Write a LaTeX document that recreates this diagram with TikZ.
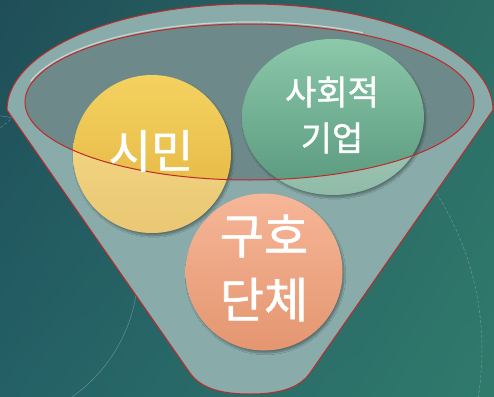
\documentclass[tikz,border=0pt]{standalone}
\usepackage{fontspec}
\newfontfamily\kr[FakeBold=1.2]{Noto Sans CJK KR}
\usetikzlibrary{shadings,shadows.blur}
\definecolor{bgUL}{RGB}{31,78,88}
\definecolor{bgUR}{RGB}{44,110,102}
\definecolor{bgLL}{RGB}{36,96,102}
\definecolor{bgLR}{RGB}{48,122,108}
\definecolor{funnelrim}{RGB}{137,171,170}
\definecolor{funnelin}{RGB}{110,137,137}
\definecolor{funnelred}{RGB}{192,40,42}
\definecolor{yelT}{RGB}{244,210,96}
\definecolor{yelB}{RGB}{226,178,62}
\definecolor{grnT}{RGB}{140,200,170}
\definecolor{grnB}{RGB}{88,152,124}
\definecolor{salT}{RGB}{246,182,152}
\definecolor{salB}{RGB}{228,150,112}
\tikzset{
  ball/.style={blur shadow={shadow xshift=1.5pt,shadow yshift=-2.5pt,shadow blur steps=8,shadow opacity=35}},
  lbl/.style={text=white,align=center,inner sep=0pt},
  redline/.style={draw=funnelred,line width=1pt},
  faint/.style={draw=white,opacity=0.28,line width=0.5pt},
  fA/.style={font=\kr\fontsize{46}{50}\selectfont},
  fB/.style={font=\kr\fontsize{34}{46}\selectfont},
  fC/.style={font=\kr\fontsize{48}{64}\selectfont}
}
\begin{document}
\begin{tikzpicture}[x=1pt,y=-1pt]
\useasboundingbox (0,0) rectangle (494,396);
% background
\shade[upper left=bgUL,upper right=bgUR,lower left=bgLL,lower right=bgLR] (0,0) rectangle (494,396);
\begin{scope}
\clip (0,0) rectangle (494,396);
\draw[faint] (-17,270) circle[radius=155];
\draw[faint,dashed,dash pattern=on 3pt off 2pt] (190,350) circle[radius=292];
\end{scope}
% funnel body
\fill[funnelrim] (7,110) arc[start angle=180,end angle=360,x radius=243,y radius=106]
  -- (310,373) .. controls (298,390) and (275,394) .. (250,394)
  .. controls (225,394) and (202,390) .. (190,373) -- cycle;
\fill[funnelin] (249.5,102) ellipse[x radius=224.5,y radius=78];
% back circles
\shade[ball,top color=yelT,bottom color=yelB] (152,154) circle[radius=79];
\shade[ball,top color=grnT,bottom color=grnB] (333,117) ellipse[x radius=91,y radius=78];
% front translucency of the funnel over the circles
\begin{scope}[even odd rule]
\clip (7,110) arc[start angle=180,end angle=360,x radius=243,y radius=106]
  -- (310,373) .. controls (298,390) and (275,394) .. (250,394)
  .. controls (225,394) and (202,390) .. (190,373) -- cycle
  (249.5,102) ellipse[x radius=224.5,y radius=78];
\fill[white,opacity=0.28] (152,154) circle[radius=79];
\fill[white,opacity=0.34] (333,117) ellipse[x radius=91,y radius=78];
\end{scope}
% outlines
\draw[white,opacity=0.5,line width=1.2pt] (249.5,102) ++(195:226.5 and 80) arc[start angle=195,end angle=300,x radius=226.5,y radius=80];
\draw[redline] (7,110) arc[start angle=180,end angle=360,x radius=243,y radius=106]
  -- (310,373) .. controls (298,390) and (275,394) .. (250,394)
  .. controls (225,394) and (202,390) .. (190,373) -- cycle;
\draw[redline] (249.5,102) ellipse[x radius=224.5,y radius=78];
% front circle
\shade[ball,top color=salT,bottom color=salB] (264,272) circle[radius=78.5];
% labels
\node[lbl,fA] (simin) at (151,151) {시민};
\node[lbl,fB] (social) at (332,115) {사회적\\기업};
\node[lbl,fC] (relief) at (264,268) {구호\\단체};
\end{tikzpicture}
\end{document}
